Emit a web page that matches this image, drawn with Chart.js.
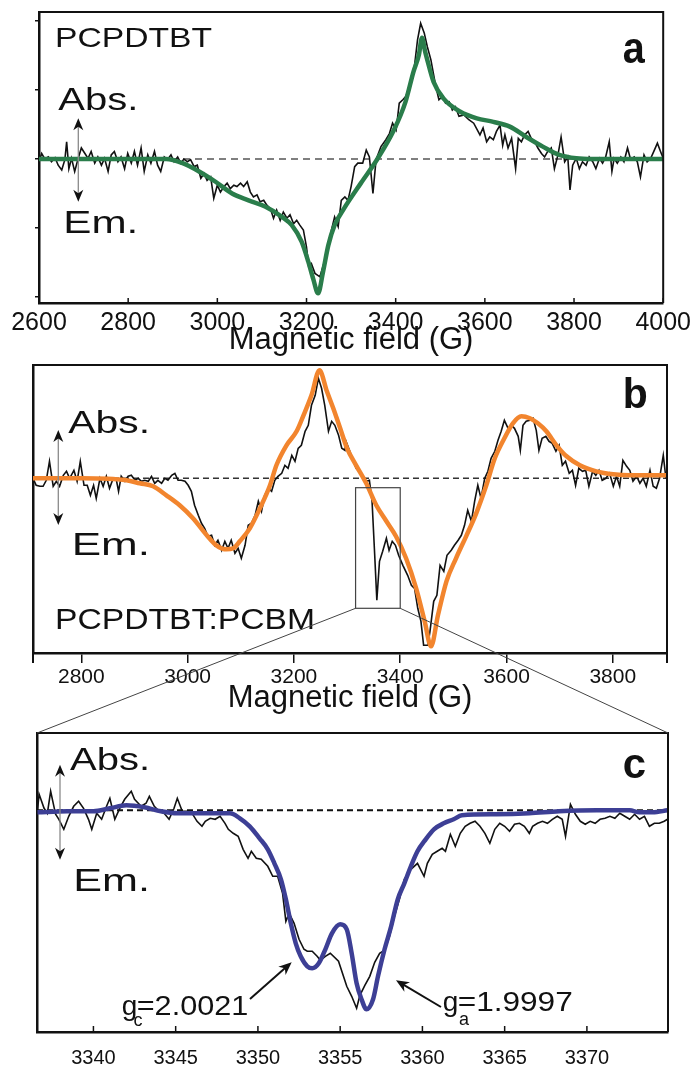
<!DOCTYPE html>
<html>
<head>
<meta charset="utf-8">
<script src="https://cdn.jsdelivr.net/npm/chart.js@4.4.0/dist/chart.umd.min.js"></script>
<style>
  body { margin: 0; background: #fff; }
  #page { position: relative; width: 696px; height: 1068px; }
  canvas { position: absolute; left: 0; }
</style>
</head>
<body>
<div id="page">
  <canvas id="panelA" width="696" height="362" style="top:0px"></canvas>
  <canvas id="panelB" width="696" height="358" style="top:362px"></canvas>
  <canvas id="panelC" width="696" height="348" style="top:720px"></canvas>
  <canvas id="overlay" width="696" height="1068" style="top:0px"></canvas>
</div>
<script>
// ---- data: [field (G), signal (arb. units)] ----

// panel a: PCPDTBT, measured spectrum
const aSpectrum = [
  [2600,-0.04],[2606,0.08],[2613,0],[2621,0.03],[2628,-0.04],[2636,0.02],[2643,-0.09],[2651,-0.16],[2658,-0.01],[2662,0.25],
  [2667,-0.14],[2673,0.01],[2680,-0.18],[2688,0.01],[2695,0.16],[2703,0.08],[2710,0.01],[2717,0.11],[2725,-0.06],[2732,0.03],
  [2740,-0.09],[2747,0.01],[2755,-0.18],[2762,0.06],[2769,0.11],[2777,-0.04],[2784,0.03],[2792,-0.14],[2799,0.08],[2807,-0.06],
  [2814,0.11],[2821,-0.09],[2829,0.16],[2836,-0.18],[2844,0.06],[2851,-0.06],[2859,0.11],[2866,-0.09],[2873,-0.18],[2881,0.03],
  [2888,-0.01],[2896,0.06],[2903,-0.04],[2911,0.03],[2918,-0.06],[2925,0],[2933,-0.04],[2940,-0.01],[2948,-0.11],[2955,-0.09],
  [2963,-0.28],[2970,-0.21],[2977,-0.31],[2985,-0.26],[2992,-0.57],[3000,-0.38],[3007,-0.48],[3015,-0.40],[3022,-0.35],[3029,-0.43],
  [3037,-0.38],[3044,-0.40],[3052,-0.35],[3059,-0.40],[3067,-0.33],[3074,-0.48],[3081,-0.55],[3089,-0.52],[3096,-0.62],[3104,-0.60],
  [3111,-0.67],[3119,-0.72],[3126,-0.86],[3133,-0.74],[3141,-0.89],[3148,-0.77],[3156,-0.86],[3163,-0.81],[3171,-0.94],[3178,-0.89],
  [3185,-0.96],[3193,-1.03],[3200,-1.28],[3205,-1.57],[3211,-1.52],[3219,-1.66],[3230,-1.71],[3241,-1.47],[3248,-1.32],[3256,-1.03],
  [3263,-0.84],[3271,-0.98],[3278,-0.60],[3286,-0.55],[3293,-0.60],[3300,-0.40],[3308,-0.11],[3315,-0.06],[3326,-0.06],[3334,0.13],
  [3341,0.03],[3349,-0.50],[3356,-0.01],[3367,0.18],[3378,0.28],[3386,0.37],[3393,0.52],[3401,0.42],[3408,0.81],[3416,0.86],
  [3423,0.91],[3430,1.05],[3442,1.34],[3449,1.73],[3456,1.97],[3464,1.83],[3471,1.63],[3479,1.44],[3490,1.05],[3497,0.86],
  [3505,0.91],[3512,0.81],[3520,0.83],[3527,0.71],[3534,0.76],[3542,0.62],[3553,0.64],[3564,0.57],[3575,0.52],[3589,0.35],
  [3596,0.45],[3604,0.25],[3611,0.32],[3619,0.28],[3626,0.40],[3634,0.49],[3640,0.20],[3645,0.35],[3652,0.16],[3660,0.30],
  [3669,-0.14],[3675,0.30],[3682,0.25],[3689,0.35],[3697,0.40],[3704,0.30],[3712,0.25],[3719,0.16],[3727,0.08],[3734,0.03],
  [3741,0.11],[3749,0.16],[3756,-0.14],[3764,0.06],[3771,0.32],[3779,-0.04],[3786,0.03],[3791,-0.45],[3797,-0.09],[3805,0.01],
  [3812,-0.14],[3819,-0.04],[3827,-0.09],[3834,0.03],[3842,-0.04],[3849,-0.14],[3857,0.01],[3864,-0.06],[3871,0.03],[3879,0.25],
  [3885,-0.18],[3890,0.01],[3897,-0.06],[3905,0.03],[3912,-0.04],[3920,0.16],[3927,-0.01],[3935,0.03],[3942,-0.04],[3949,-0.26],
  [3957,0.06],[3964,-0.04],[3972,0.01],[3979,0.11],[3987,0.23],[3994,0.11],[4000,0.01]
];
// panel a: simulated spectrum (green)
const aFit = [
  [2600,0],[2700,0],[2800,0],[2885,0],[2922,-0.06],[2959,-0.18],[2996,-0.33],[3033,-0.5],[3070,-0.6],[3107,-0.69],
  [3145,-0.84],[3167,-0.96],[3189,-1.2],[3204,-1.49],[3215,-1.74],[3226,-1.95],[3237,-1.64],[3249,-1.25],[3263,-0.96],[3284,-0.72],
  [3322,-0.35],[3359,0],[3396,0.42],[3422,0.83],[3440,1.27],[3452,1.51],[3459,1.76],[3466,1.56],[3470,1.46],[3485,1.12],
  [3507,0.88],[3544,0.69],[3582,0.59],[3619,0.54],[3656,0.47],[3693,0.32],[3730,0.18],[3767,0.06],[3805,0.01],[3842,0],
  [3900,0],[4000,0]
];

// panel b: PCPDTBT:PCBM, measured spectrum
const bSpectrum = [
  [2709,0],[2715,-0.07],[2722,-0.08],[2728,-0.08],[2734,-0.02],[2740,0.17],[2747,-0.08],[2753,-0.03],[2759,-0.08],[2766,0.03],
  [2772,0.07],[2778,0],[2786,0.08],[2792,-0.03],[2798,0.17],[2805,-0.07],[2811,-0.07],[2817,-0.17],[2823,-0.07],[2828,-0.2],
  [2835,0],[2841,-0.08],[2847,0.02],[2853,-0.1],[2860,0],[2866,-0.02],[2870,-0.13],[2875,0.02],[2882,-0.03],[2888,0.02],
  [2894,0.03],[2901,-0.02],[2907,0],[2913,-0.03],[2919,-0.02],[2926,-0.03],[2932,0.02],[2938,-0.05],[2944,-0.02],[2951,-0.05],
  [2957,0],[2963,-0.02],[2970,0.03],[2976,0.05],[2982,-0.02],[2988,-0.02],[2995,-0.03],[3001,-0.07],[3007,-0.13],[3013,-0.27],
  [3020,-0.37],[3026,-0.45],[3032,-0.5],[3038,-0.58],[3045,-0.57],[3051,-0.67],[3057,-0.62],[3064,-0.72],[3070,-0.63],[3076,-0.7],
  [3082,-0.62],[3089,-0.75],[3095,-0.7],[3101,-0.8],[3108,-0.67],[3114,-0.47],[3120,-0.45],[3127,-0.37],[3133,-0.23],[3139,-0.33],
  [3145,-0.17],[3152,-0.1],[3158,-0.13],[3164,-0.02],[3170,0.02],[3177,0.05],[3183,0.13],[3189,0.1],[3196,0.23],[3202,0.17],
  [3208,0.3],[3214,0.33],[3221,0.47],[3227,0.53],[3233,0.73],[3240,0.83],[3246,1.0],[3252,0.9],[3258,0.73],[3265,0.47],
  [3271,0.57],[3277,0.53],[3284,0.43],[3290,0.3],[3296,0.28],[3298,0.37],[3308,0.23],[3317,0.1],[3326,0.05],[3336,-0.03],
  [3342,-0.02],[3347,-0.23],[3352,-0.77],[3356,-1.22],[3361,-0.83],[3367,-0.73],[3374,-0.6],[3379,-0.72],[3385,-0.63],[3391,-0.67],
  [3397,-0.77],[3405,-0.87],[3414,-0.97],[3421,-1.07],[3427,-1.1],[3433,-1.3],[3439,-1.43],[3444,-1.67],[3452,-1.67],[3456,-1.53],
  [3463,-1.23],[3469,-1.17],[3475,-0.87],[3482,-0.93],[3488,-0.77],[3496,-0.72],[3502,-0.67],[3509,-0.62],[3515,-0.57],[3521,-0.47],
  [3527,-0.32],[3534,-0.43],[3540,-0.23],[3546,-0.07],[3552,-0.2],[3559,0],[3565,0.07],[3571,0.2],[3578,0.27],[3584,0.38],
  [3590,0.47],[3596,0.58],[3603,0.5],[3609,0.53],[3615,0.5],[3622,0.42],[3626,0.28],[3631,0.53],[3637,0.57],[3644,0.58],
  [3650,0.6],[3656,0.48],[3661,0.28],[3667,0.4],[3674,0.42],[3680,0.37],[3686,0.35],[3693,0.27],[3699,0.33],[3705,0.13],
  [3711,0.17],[3718,0.05],[3724,0.08],[3730,-0.07],[3736,0.1],[3743,0.07],[3749,0.08],[3755,-0.08],[3762,0.07],[3768,0.03],
  [3774,0.08],[3780,-0.02],[3787,0],[3794,0.05],[3801,-0.08],[3807,0.02],[3813,-0.08],[3819,0.18],[3826,0.12],[3832,0.08],
  [3838,-0.03],[3845,0.02],[3851,-0.05],[3857,0],[3863,-0.08],[3870,0.08],[3876,-0.08],[3882,-0.1],[3888,0],[3895,0.23],
  [3900,0]
];
// panel b: simulated spectrum (orange)
const bFit = [
  [2709,0],[2800,0],[2885,-0.02],[2910,-0.05],[2935,-0.08],[2960,-0.17],[2985,-0.27],[3010,-0.4],[3036,-0.57],[3054,-0.67],
  [3073,-0.71],[3086,-0.7],[3098,-0.63],[3117,-0.5],[3136,-0.3],[3155,-0.07],[3167,0.13],[3186,0.33],[3205,0.47],[3218,0.63],
  [3233,0.83],[3248,1.08],[3262,0.87],[3274,0.7],[3287,0.5],[3300,0.3],[3317,0.13],[3336,-0.05],[3355,-0.27],[3374,-0.43],
  [3392,-0.58],[3411,-0.8],[3430,-1.1],[3446,-1.43],[3458,-1.68],[3471,-1.37],[3487,-1.03],[3505,-0.8],[3524,-0.58],[3543,-0.35],
  [3562,-0.07],[3578,0.2],[3596,0.4],[3612,0.55],[3628,0.62],[3644,0.6],[3659,0.55],[3675,0.47],[3694,0.33],[3713,0.22],
  [3738,0.13],[3769,0.07],[3801,0.04],[3832,0.03],[3902,0.03]
];
// region of panel b that is enlarged in panel c
const zoomField = [3316, 3400];
const zoomLevel = [-0.094, -1.30];

// panel c: enlarged PCBM line, measured spectrum
const cSpectrum = [
  [3336.6,0.01],[3336.7,0.16],[3337.0,0.02],[3337.2,-0.03],[3337.4,0.19],[3337.7,-0.04],[3337.9,-0.09],[3338.2,-0.19],[3338.5,-0.06],[3338.8,0.04],
  [3339.1,0.09],[3339.4,0.02],[3339.7,-0.09],[3339.9,-0.19],[3340.2,-0.03],[3340.5,-0.09],[3340.8,0.04],[3341.0,0.12],[3341.3,-0.09],[3341.6,0.02],
  [3341.9,0.11],[3342.3,0.19],[3342.5,0.11],[3342.9,0.04],[3343.2,0.07],[3343.4,0.14],[3343.7,0.04],[3344.0,-0.01],[3344.3,-0.03],[3344.6,-0.09],
  [3344.9,0.02],[3345.1,0.12],[3345.4,-0.01],[3345.7,-0.01],[3346.0,-0.03],[3346.3,-0.11],[3346.6,-0.16],[3346.8,-0.11],[3347.1,-0.08],[3347.4,-0.09],
  [3347.7,-0.06],[3348.0,-0.13],[3348.2,-0.19],[3348.5,-0.23],[3348.8,-0.26],[3349.1,-0.39],[3349.4,-0.48],[3349.6,-0.41],[3349.9,-0.48],[3350.2,-0.49],
  [3350.6,-0.56],[3350.9,-0.66],[3351.2,-0.66],[3351.5,-0.83],[3351.7,-1.11],[3351.9,-1.03],[3352.2,-1.13],[3352.5,-1.29],[3352.8,-1.39],[3353.0,-1.41],
  [3353.3,-1.41],[3353.6,-1.46],[3353.8,-1.50],[3354.1,-1.46],[3354.4,-1.43],[3354.9,-1.51],[3355.4,-1.76],[3355.7,-1.86],[3356.0,-1.98],[3356.2,-1.85],
  [3356.5,-1.75],[3356.8,-1.66],[3357.1,-1.52],[3357.4,-1.43],[3357.7,-1.40],[3358.0,-1.26],[3358.3,-1.06],[3358.6,-0.89],[3358.9,-0.69],[3359.3,-0.59],
  [3359.7,-0.53],[3360.1,-0.66],[3360.3,-0.53],[3360.6,-0.44],[3360.9,-0.41],[3361.2,-0.38],[3361.4,-0.41],[3361.7,-0.24],[3362.0,-0.36],[3362.3,-0.23],
  [3362.6,-0.16],[3362.9,-0.13],[3363.2,-0.11],[3363.5,-0.16],[3363.8,-0.23],[3364.1,-0.33],[3364.4,-0.19],[3364.7,-0.13],[3365.0,-0.16],[3365.3,-0.21],
  [3365.6,-0.14],[3365.9,-0.13],[3366.2,-0.16],[3366.5,-0.23],[3366.7,-0.16],[3367.0,-0.13],[3367.3,-0.11],[3367.6,-0.13],[3367.9,-0.09],[3368.2,-0.06],
  [3368.5,-0.09],[3368.7,-0.26],[3369.0,0.06],[3369.3,-0.04],[3369.6,-0.11],[3369.9,-0.14],[3370.2,-0.11],[3370.5,-0.13],[3370.8,-0.09],[3371.1,-0.08],
  [3371.4,-0.06],[3371.7,-0.08],[3372.0,-0.03],[3372.3,-0.06],[3372.6,-0.09],[3372.9,-0.04],[3373.2,-0.09],[3373.5,-0.06],[3373.8,-0.16],[3374.1,-0.13],
  [3374.4,-0.13],[3374.7,-0.11],[3374.9,-0.09]
];
// panel c: simulated spectrum (blue)
const cFit = [
  [3336.6,-0.02],[3338.4,-0.01],[3340.0,-0.01],[3341.0,0.02],[3342.0,0.05],[3343.1,0.03],[3344.1,-0.01],[3345.1,-0.03],[3346.5,-0.03],[3348.3,-0.03],
  [3348.9,-0.08],[3349.5,-0.16],[3350.1,-0.28],[3350.6,-0.39],[3351.0,-0.53],[3351.4,-0.69],[3351.7,-0.89],[3352.0,-1.13],[3352.3,-1.33],[3352.6,-1.46],
  [3353.0,-1.56],[3353.3,-1.58],[3353.7,-1.53],[3354.1,-1.39],[3354.5,-1.23],[3355.0,-1.14],[3355.4,-1.19],[3355.7,-1.43],[3356.0,-1.73],[3356.3,-1.89],
  [3356.6,-1.99],[3357.0,-1.89],[3357.3,-1.66],[3357.7,-1.39],[3358.1,-1.16],[3358.5,-0.89],[3358.9,-0.73],[3359.3,-0.56],[3359.7,-0.41],[3360.2,-0.29],
  [3360.7,-0.19],[3361.3,-0.13],[3361.9,-0.09],[3362.4,-0.05],[3364.5,-0.04],[3366.5,-0.03],[3368.3,-0.01],[3370.6,0],[3372.6,0],
  [3373.2,-0.02],[3374.0,-0.02],[3374.9,0]
];

const fieldRangeA = [2600, 4000];
const fieldRangeB = [2709, 3902];
const fieldRangeC = [3336.57, 3374.93];
const levelRangeA = [-2.09, 2.134];
const levelRangeB = [-1.747, 1.133];
const levelRangeC = [-2.217, 0.773];
const fieldTicksA = [2600, 2800, 3000, 3200, 3400, 3600, 3800, 4000];
const fieldTicksB = [2800, 3000, 3200, 3400, 3600, 3800];
const fieldTicksC = [3340, 3345, 3350, 3355, 3360, 3365, 3370];
const levelTicksA = [-2, -1, 0, 1, 2];

const FONT = '"Liberation Sans", Arial, Helvetica, sans-serif';
const INK = '#111';

Chart.defaults.font.family = FONT;
Chart.defaults.color = INK;

function toPoints(arr) {
  return arr.map(([x, y]) => ({ x, y }));
}

// draw text squeezed/stretched to the width it has in the figure
function drawLabel(ctx, t) {
  ctx.save();
  ctx.font = (t.bold ? 'bold ' : '') + t.size + 'px ' + FONT;
  const w = ctx.measureText(t.text).width;
  ctx.translate(t.x, t.y);
  if (t.w) ctx.scale(t.w / w, 1);
  ctx.fillStyle = INK;
  ctx.textBaseline = 'alphabetic';
  ctx.fillText(t.text, 0, 0);
  ctx.restore();
}

function arrowHead(ctx, x, y, angle, len, half) {
  ctx.save();
  ctx.translate(x, y);
  ctx.rotate(angle);
  ctx.beginPath();
  ctx.moveTo(0, 0);
  ctx.lineTo(-len, -half);
  ctx.lineTo(-len * 0.7, 0);
  ctx.lineTo(-len, half);
  ctx.closePath();
  ctx.fill();
  ctx.restore();
}

function doubleArrow(ctx, x, y1, y2) {
  ctx.save();
  ctx.strokeStyle = '#8a8a8a';
  ctx.lineWidth = 1.3;
  ctx.beginPath();
  ctx.moveTo(x, y1 + 6);
  ctx.lineTo(x, y2 - 6);
  ctx.stroke();
  ctx.fillStyle = INK;
  arrowHead(ctx, x, y1, -Math.PI / 2, 12, 5);
  arrowHead(ctx, x, y2, Math.PI / 2, 12, 5);
  ctx.restore();
}

function lineArrow(ctx, a) {
  ctx.save();
  ctx.strokeStyle = INK;
  ctx.fillStyle = INK;
  ctx.lineWidth = 2;
  const ang = Math.atan2(a.y2 - a.y1, a.x2 - a.x1);
  ctx.beginPath();
  ctx.moveTo(a.x1, a.y1);
  ctx.lineTo(a.x2 - Math.cos(ang) * 8, a.y2 - Math.sin(ang) * 8);
  ctx.stroke();
  arrowHead(ctx, a.x2, a.y2, ang, 13, 5.5);
  ctx.restore();
}

function decorPlugin(p) {
  return {
    id: 'decor',
    beforeDatasetsDraw(chart) {
      const { ctx, chartArea: a, scales: { y } } = chart;
      const y0 = y.getPixelForValue(0);
      ctx.save();
      ctx.strokeStyle = p.zeroColor;
      ctx.lineWidth = p.zeroWidth;
      ctx.setLineDash(p.zeroDash);
      ctx.beginPath();
      ctx.moveTo(a.left, y0);
      ctx.lineTo(a.right, y0);
      ctx.stroke();
      ctx.restore();
    },
    afterDraw(chart) {
      const { ctx, chartArea: a, scales: { x } } = chart;
      ctx.save();
      ctx.strokeStyle = INK;
      ctx.lineWidth = 2;
      ctx.beginPath();
      ctx.moveTo(a.left, a.top);
      ctx.lineTo(a.right, a.top);
      ctx.lineTo(a.right, a.bottom);
      ctx.stroke();
      if (p.innerTicks) {
        ctx.lineWidth = 1.5;
        x.ticks.forEach(t => {
          const px = x.getPixelForValue(t.value);
          ctx.beginPath();
          ctx.moveTo(px, a.bottom);
          ctx.lineTo(px, a.bottom - p.innerTicks);
          ctx.stroke();
        });
      }
      if (p.endTicks) {
        ctx.lineWidth = 2;
        [a.left, a.right].forEach(px => {
          ctx.beginPath();
          ctx.moveTo(px, a.bottom);
          ctx.lineTo(px, a.bottom + p.endTicks);
          ctx.stroke();
        });
      }
      ctx.translate(0, -p.top);
      p.labels.forEach(t => drawLabel(ctx, t));
      doubleArrow(ctx, p.vArrow[0], p.vArrow[1], p.vArrow[2]);
      (p.arrows || []).forEach(ar => lineArrow(ctx, ar));
      ctx.restore();
    }
  };
}

function makePanel(canvasId, cfg) {
  const ctx = document.getElementById(canvasId).getContext('2d');
  return new Chart(ctx, {
    type: 'line',
    data: {
      datasets: [
        {
          data: toPoints(cfg.fit),
          borderColor: cfg.fitColor,
          borderWidth: cfg.fitWidth,
          pointRadius: 0,
          cubicInterpolationMode: 'monotone',
          order: 0
        },
        {
          data: toPoints(cfg.spectrum),
          borderColor: INK,
          borderWidth: 1.6,
          pointRadius: 0,
          tension: 0,
          order: 1
        }
      ]
    },
    options: {
      responsive: false,
      animation: false,
      devicePixelRatio: 1,
      events: [],
      layout: { padding: cfg.padding },
      plugins: { legend: { display: false }, tooltip: { enabled: false } },
      scales: {
        x: {
          type: 'linear',
          min: cfg.fieldRange[0],
          max: cfg.fieldRange[1],
          afterBuildTicks: s => { s.ticks = cfg.fieldTicks.map(v => ({ value: v })); },
          afterFit: s => { s.height = cfg.xHeight; },
          border: { display: true, color: INK, width: 2.5 },
          grid: {
            display: cfg.outerTicks > 0,
            drawOnChartArea: false,
            drawTicks: true,
            tickLength: cfg.outerTicks,
            color: INK,
            lineWidth: 1.5
          },
          ticks: {
            maxRotation: 0,
            autoSkip: false,
            padding: cfg.tickPadding,
            font: { size: cfg.tickSize },
            color: INK,
            callback: v => String(v)
          },
          title: {
            display: !!cfg.title,
            text: cfg.title || '',
            font: { size: 31 },
            color: INK,
            padding: { top: 0, bottom: cfg.titlePad || 0 }
          }
        },
        y: {
          type: 'linear',
          min: cfg.levelRange[0],
          max: cfg.levelRange[1],
          afterBuildTicks: s => { s.ticks = (cfg.levelTicks || []).map(v => ({ value: v })); },
          afterFit: s => { s.width = cfg.yWidth; },
          border: { display: true, color: INK, width: 2.5 },
          grid: {
            display: cfg.yTicks > 0,
            drawOnChartArea: false,
            drawTicks: true,
            tickLength: cfg.yTicks,
            color: INK,
            lineWidth: 1.5
          },
          ticks: { display: false }
        }
      }
    },
    plugins: [decorPlugin(cfg.decor)]
  });
}

const chartA = makePanel('panelA', {
  spectrum: aSpectrum, fit: aFit, fitColor: '#2a7d4b', fitWidth: 4.5,
  fieldRange: fieldRangeA, levelRange: levelRangeA, fieldTicks: fieldTicksA, levelTicks: levelTicksA,
  padding: { left: 35, right: 29, top: 12, bottom: 0 },
  xHeight: 59, yWidth: 4, yTicks: 4, outerTicks: 0,
  tickPadding: 5, tickSize: 25, title: 'Magnetic field (G)', titlePad: 3,
  decor: {
    top: 0, zeroColor: '#555', zeroWidth: 1.5, zeroDash: [7, 5], innerTicks: 5,
    labels: [
      { text: 'PCPDTBT', x: 55, y: 46.7, size: 28, w: 157 },
      { text: 'Abs.', x: 58.3, y: 110, size: 31, w: 80 },
      { text: 'Em.', x: 63.3, y: 233.3, size: 31, w: 75 },
      { text: 'a', x: 622.7, y: 63.3, size: 44, w: 22, bold: true }
    ],
    vArrow: [78.3, 118.3, 201.7]
  }
});

const chartB = makePanel('panelB', {
  spectrum: bSpectrum, fit: bFit, fitColor: '#f2852e', fitWidth: 4.5,
  fieldRange: fieldRangeB, levelRange: levelRangeB, fieldTicks: fieldTicksB,
  padding: { left: 33, right: 29, top: 3, bottom: 0 },
  xHeight: 67, yWidth: 0, yTicks: 0, outerTicks: 10,
  tickPadding: 2, tickSize: 21, title: 'Magnetic field (G)', titlePad: 3,
  decor: {
    top: 362, zeroColor: '#333', zeroWidth: 1.4, zeroDash: [6, 4], endTicks: 10,
    labels: [
      { text: 'PCPDTBT:PCBM', x: 55, y: 629, size: 30, w: 260 },
      { text: 'Abs.', x: 68.3, y: 433.3, size: 31, w: 81.7 },
      { text: 'Em.', x: 71.7, y: 555, size: 31, w: 78.3 },
      { text: 'b', x: 622.7, y: 408.3, size: 43, w: 25, bold: true }
    ],
    vArrow: [58.3, 430, 525]
  }
});

const chartC = makePanel('panelC', {
  spectrum: cSpectrum, fit: cFit, fitColor: '#3d3f95', fitWidth: 4.5,
  fieldRange: fieldRangeC, levelRange: levelRangeC, fieldTicks: fieldTicksC,
  padding: { left: 37, right: 28, top: 13, bottom: 0 },
  xHeight: 36, yWidth: 0, yTicks: 0, outerTicks: 0,
  tickPadding: 14, tickSize: 20,
  decor: {
    top: 720, zeroColor: '#111', zeroWidth: 2, zeroDash: [6, 4], innerTicks: 6,
    labels: [
      { text: 'Abs.', x: 70, y: 769.7, size: 31, w: 80 },
      { text: 'Em.', x: 73.3, y: 891.3, size: 31, w: 76.7 },
      { text: 'c', x: 622.7, y: 778, size: 42, w: 23.3, bold: true },
      { text: 'g', x: 121.7, y: 1014.7, size: 28 },
      { text: 'c', x: 133.5, y: 1026, size: 18 },
      { text: '=2.0021', x: 136.7, y: 1014.7, size: 28, w: 111.6 },
      { text: 'g', x: 442.7, y: 1011.3, size: 28 },
      { text: 'a', x: 459, y: 1025, size: 18 },
      { text: '=1.9997', x: 457.7, y: 1011.3, size: 28, w: 115 }
    ],
    vArrow: [60, 764.7, 859.7],
    arrows: [
      { x1: 250, y1: 999, x2: 291.7, y2: 962.3 },
      { x1: 441, y1: 1007, x2: 396, y2: 980.3 }
    ]
  }
});

// zoom box in panel b and the lines that lead to panel c
const ov = document.getElementById('overlay').getContext('2d');
const bx = chartB.scales.x, by = chartB.scales.y;
const boxL = bx.getPixelForValue(zoomField[0]);
const boxR = bx.getPixelForValue(zoomField[1]);
const boxT = by.getPixelForValue(zoomLevel[0]) + 362;
const boxB = by.getPixelForValue(zoomLevel[1]) + 362;
const cArea = chartC.chartArea;
ov.strokeStyle = '#444';
ov.lineWidth = 1.2;
ov.strokeRect(boxL, boxT, boxR - boxL, boxB - boxT);
ov.lineWidth = 1;
ov.beginPath();
ov.moveTo(boxL, boxB);
ov.lineTo(cArea.left, cArea.top + 720);
ov.moveTo(boxR, boxB);
ov.lineTo(cArea.right, cArea.top + 720);
ov.stroke();
</script>
</body>
</html>
